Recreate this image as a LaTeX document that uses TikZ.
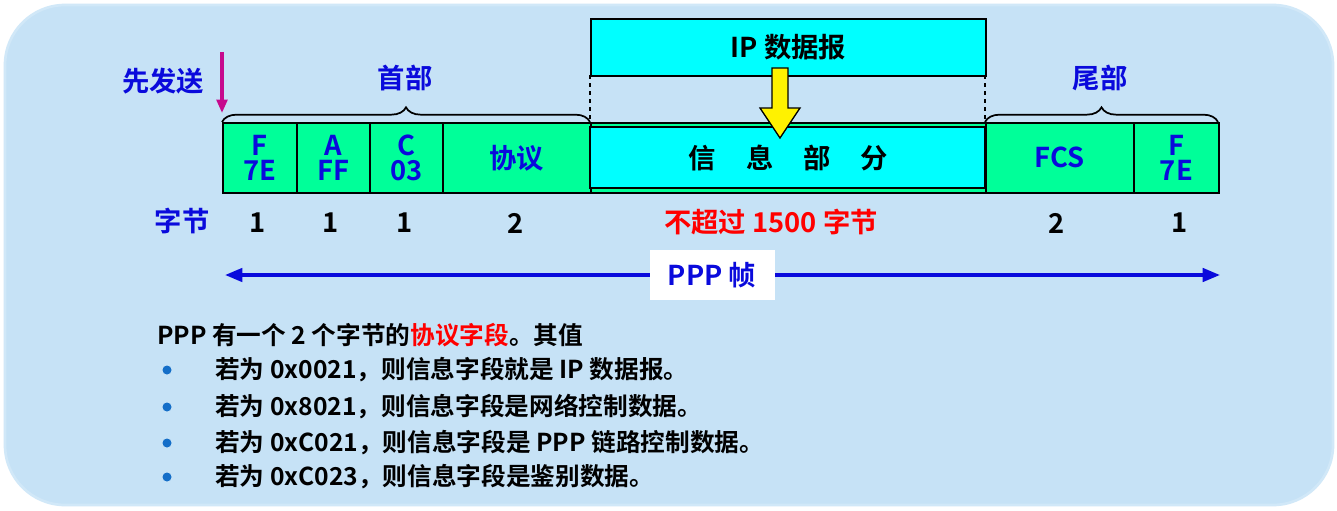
\documentclass[tikz,border=0pt]{standalone}
\usepackage{fontspec}
\setmainfont{Noto Sans CJK SC}[BoldFont={* Bold}]
\usetikzlibrary{decorations.pathreplacing,arrows.meta}
\definecolor{bgblue}{RGB}{198,226,246}
\definecolor{fgreen}{RGB}{0,255,153}
\definecolor{fcyan}{RGB}{0,255,255}
\definecolor{tblue}{RGB}{10,10,220}
\definecolor{bul}{RGB}{20,110,200}
\begin{document}
\begin{tikzpicture}[x=0.75pt,y=-0.75pt,
  lab/.style={font=\bfseries\fontsize{20.5}{21}\selectfont,inner sep=0pt},
  blab/.style={lab,text=tblue},
  fld/.style={draw=black,line width=1.3pt},
  txt/.style={font=\bfseries\fontsize{18.5}{19}\selectfont,anchor=west,inner sep=0pt}]
\useasboundingbox (0,0) rectangle (1337,510);
\fill[white] (0,0) rectangle (1337,510);
\fill[bgblue,rounded corners=45pt] (5,5) rectangle (1333,505);
\draw[bgblue!80!white,line width=2pt,rounded corners=45pt] (5,5) rectangle (1333,505);
% IP datagram
\node[fld,fill=fcyan,minimum width=296.25pt,minimum height=42.75pt,anchor=north west,inner sep=0pt] (ip) at (590,18) {};
\node[lab] at (ip) {IP 数据报};
\draw[dashed,line width=1.3pt] (590,75) -- (590,122) (985,75) -- (985,122);
% frame fields
\node[fld,fill=fgreen,minimum width=55.5pt,minimum height=52.5pt,anchor=north west,inner sep=0pt] (f1) at (222,122) {};
\node[fld,fill=fgreen,minimum width=54.75pt,minimum height=52.5pt,anchor=north west,inner sep=0pt] (f2) at (296,122) {};
\node[fld,fill=fgreen,minimum width=54.75pt,minimum height=52.5pt,anchor=north west,inner sep=0pt] (f3) at (369,122) {};
\node[fld,fill=fgreen,minimum width=111pt,minimum height=52.5pt,anchor=north west,inner sep=0pt] (f4) at (442,122) {};
\node[fld,fill=fgreen,minimum width=296.25pt,minimum height=52.5pt,anchor=north west,inner sep=0pt] (f5) at (590,122) {};
\draw[fld,fill=fcyan] (590,127) rectangle (985,188);
\node[fld,fill=fgreen,minimum width=111pt,minimum height=52.5pt,anchor=north west,inner sep=0pt] (f6) at (985,122) {};
\node[fld,fill=fgreen,minimum width=63.75pt,minimum height=52.5pt,anchor=north west,inner sep=0pt] (f7) at (1133,122) {};
\node[blab,align=center,font=\bfseries\fontsize{20.5}{19}\selectfont] at (f1) {F\\7E};
\node[blab,align=center,font=\bfseries\fontsize{20.5}{19}\selectfont] at (f2) {A\\FF};
\node[blab,align=center,font=\bfseries\fontsize{20.5}{19}\selectfont] at (f3) {C\\03};
\node[blab] at (f4) {协议};
\node[lab] at (f5) {信\hspace{1.1em}息\hspace{1.1em}部\hspace{1.1em}分};
\node[blab] at (f6) {FCS};
\node[blab,align=center,font=\bfseries\fontsize{20.5}{19}\selectfont] at (f7) {F\\7E};
% yellow arrow
\fill[yellow,draw=black,line width=1pt] (772,68) -- (788,68) -- (788,108) -- (800,108) -- (780,138) -- (760,108) -- (772,108) -- cycle;
% braces
\draw[decorate,decoration={brace,amplitude=11pt},line width=1.3pt] (222,122) -- (590,122);
\draw[decorate,decoration={brace,amplitude=11pt},line width=1.3pt] (985,122) -- (1218,122);
\node[blab] (h1) at (405,78) {首部};
\node[blab] (h2) at (1100,78) {尾部};
\node[blab] (send) at (163,81) {先发送};
\coordinate (sa) at (222,52); \coordinate (sb) at (222,113);
\draw[magenta!80!blue,line width=2.4pt,-{Triangle[length=10pt,width=8pt]}] (sa) -- (sb);
% bytes
\node[blab] at (182,221) {字节};
\foreach \x/\t in {258/1,331/1,405/1,516/2,1057/2,1180/1} \node[lab] at (\x,223) {\t};
\node[lab,text=red] at (771,222) {不超过 1500 字节};
% PPP frame arrow
\coordinate (pl) at (225,275); \coordinate (pr) at (1220,275);
\draw[tblue,line width=2.6pt,{Triangle[length=13pt,width=10pt]}-{Triangle[length=13pt,width=10pt]}] (pl) -- (pr);
\node[fill=white,minimum width=93.75pt,minimum height=37.5pt,inner sep=0pt] (ppp) at (712,275) {};
\node[blab] at (ppp) {PPP 帧};
% text
\node[txt] at (157,335) {PPP 有一个 2 个字节的\textcolor{red}{协议字段}。其值};
\foreach \y/\t in {370/{若为 0x0021，则信息字段就是 IP 数据报。},407/{若为 0x8021，则信息字段是网络控制数据。},443/{若为 0xC021，则信息字段是 PPP 链路控制数据。},477/{若为 0xC023，则信息字段是鉴别数据。}}{
  \fill[bul] (167,\y) circle (4.5);
  \node[txt] at (215,\y) {\t};}
\end{tikzpicture}
\end{document}
